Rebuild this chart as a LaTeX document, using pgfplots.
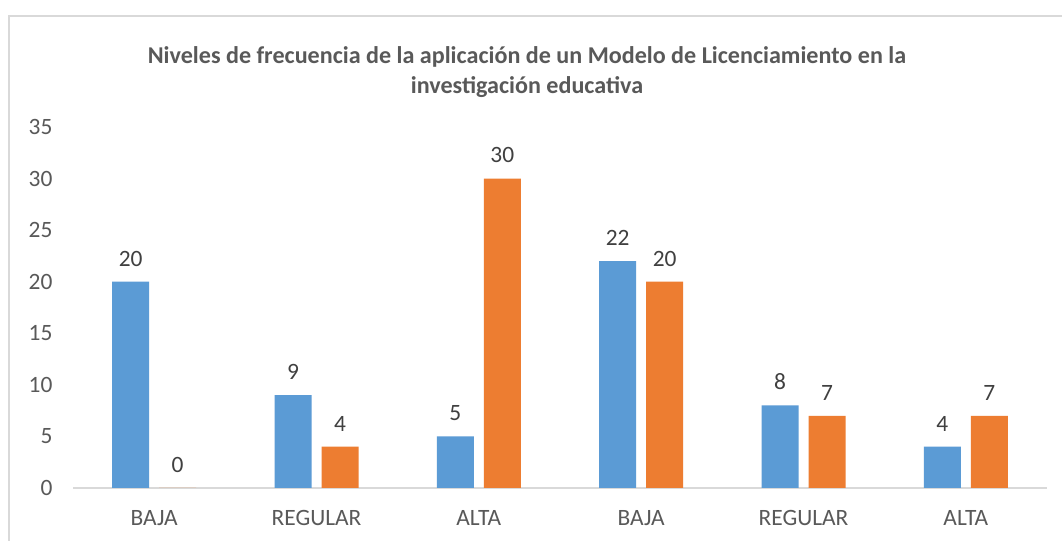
\documentclass[border=0pt]{standalone}
\usepackage{pgfplots}
\pgfplotsset{compat=1.18}
\usepackage{fontspec}
\setmainfont{Carlito}
\definecolor{sblue}{HTML}{5B9BD5}
\definecolor{sorange}{HTML}{ED7D31}
\definecolor{txt}{HTML}{595959}
\definecolor{lbl}{HTML}{404040}
\definecolor{axl}{HTML}{D9D9D9}
\begin{document}
\begin{tikzpicture}[x=1bp,y=1bp]
\path[use as bounding box] (0,0) rectangle (1062,541);
\fill[white] (0,0) rectangle (1062,541);
\draw[axl, line width=1.5bp] (9,0) -- (9,525) -- (1062,525);
\node[txt, font=\fontsize{24.2}{30}\selectfont\bfseries, align=center] at (527,469) {Niveles de frecuencia de la aplicación de un Modelo de Licenciamiento en la\\investigación educativa};
\begin{axis}[
  at={(73bp,53bp)}, anchor=south west,
  scale only axis, width=974bp, height=361bp,
  ybar=10bp, bar width=37bp,
  xmin=-0.5, xmax=5.5, ymin=0, ymax=35,
  xtick={0,1,2,3,4,5},
  xticklabels={BAJA,REGULAR,ALTA,BAJA,REGULAR,ALTA},
  ytick={0,5,10,15,20,25,30,35},
  axis lines*=left,
  x axis line style={axl, line width=1.5bp, -},
  y axis line style={draw=none},
  major tick length=0pt,
  tick style={draw=none},
  ticklabel style={txt, font=\fontsize{23.5}{28}\selectfont},
  /pgf/number format/assume math mode=true,
  yticklabel style={anchor=east, xshift=-17bp},
  xticklabel style={yshift=-19bp},
  nodes near coords,
  nodes near coords style={lbl, font=\fontsize{23.5}{28}\selectfont, anchor=south, yshift=12bp, /pgf/number format/assume math mode=true},
  clip=false,
]
\addplot[fill=sblue, draw=none] coordinates {(0,20) (1,9) (2,5) (3,22) (4,8) (5,4)};
\addplot[fill=sorange, draw=none] coordinates {(0,0) (1,4) (2,30) (3,20) (4,7) (5,7)};
\end{axis}
\end{tikzpicture}
\end{document}
